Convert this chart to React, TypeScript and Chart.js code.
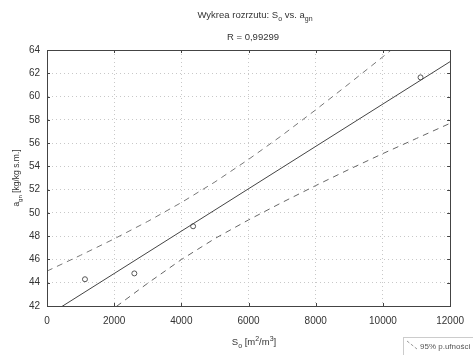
import React, { useEffect, useRef } from "react";
import { Chart, registerables } from "chart.js";

Chart.register(...registerables);

// Measured points
const pointX = [1130, 2600, 4350, 11120];
const pointY = [44.3, 44.8, 48.85, 61.65];

// Regression line
const fitX = [0, 12000];
const fitY = [41.15, 63.0];

// 95% confidence band
const bandX = [0, 1000, 2000, 3000, 4000, 5000, 6000, 7000, 8000, 9000, 10000, 11000, 12000];
const upperY = [45.0, 46.36, 47.77, 49.27, 50.89, 52.66, 54.6, 56.67, 58.86, 61.12, 63.42, 65.77, 68.13];
const lowerY = [37.3, 39.59, 41.82, 43.96, 45.99, 47.8, 49.4, 50.9, 52.35, 53.75, 55.1, 56.4, 57.7];

const titleLine1 = [
  { t: "Wykrea rozrzutu: S" },
  { t: "o", sub: true },
  { t: " vs. a" },
  { t: "gn", sub: true },
];
const titleLine2 = [{ t: "R = 0,99299" }];
const xLabel = [{ t: "S" }, { t: "o", sub: true }, { t: " [m" }, { t: "2", sup: true }, { t: "/m" }, { t: "3", sup: true }, { t: "]" }];
const yLabel = [{ t: "a" }, { t: "gn", sub: true }, { t: " [kg/kg s.m.]" }];
const legendText = "95% p.ufności";

const FONT = "'Liberation Sans', Arial, sans-serif";

type Part = { t: string; sub?: boolean; sup?: boolean };

function drawRich(ctx: CanvasRenderingContext2D, parts: Part[], x: number, y: number, size: number) {
  const small = Math.round(size * 0.72);
  const widths = parts.map((p) => {
    ctx.font = `${p.sub || p.sup ? small : size}px ${FONT}`;
    return ctx.measureText(p.t).width;
  });
  const total = widths.reduce((a, b) => a + b, 0);
  let cx = x - total / 2;
  ctx.textBaseline = "alphabetic";
  ctx.textAlign = "left";
  parts.forEach((p, i) => {
    ctx.font = `${p.sub || p.sup ? small : size}px ${FONT}`;
    const dy = p.sub ? size * 0.3 : p.sup ? -size * 0.4 : 0;
    ctx.fillText(p.t, cx, y + dy);
    cx += widths[i];
  });
}

const decorPlugin = {
  id: "decor",
  afterDraw(chart: any) {
    const ctx: CanvasRenderingContext2D = chart.ctx;
    const a = chart.chartArea;
    ctx.save();
    // frame
    ctx.strokeStyle = "#444";
    ctx.lineWidth = 1;
    ctx.strokeRect(Math.round(a.left) + 0.5, Math.round(a.top) + 0.5, Math.round(a.right - a.left), Math.round(a.bottom - a.top));
    // inward ticks
    const xs = chart.scales.x;
    const ys = chart.scales.y;
    ctx.beginPath();
    xs.ticks.forEach((t: any) => {
      const px = Math.round(xs.getPixelForValue(t.value)) + 0.5;
      ctx.moveTo(px, a.bottom);
      ctx.lineTo(px, a.bottom - 3);
      ctx.moveTo(px, a.top);
      ctx.lineTo(px, a.top + 3);
    });
    ys.ticks.forEach((t: any) => {
      const py = Math.round(ys.getPixelForValue(t.value)) + 0.5;
      ctx.moveTo(a.left, py);
      ctx.lineTo(a.left + 3, py);
      ctx.moveTo(a.right, py);
      ctx.lineTo(a.right - 3, py);
    });
    ctx.stroke();

    ctx.fillStyle = "#333";
    drawRich(ctx, titleLine1, 255, 18, 9.5);
    drawRich(ctx, titleLine2, 253, 40, 9.5);
    drawRich(ctx, xLabel, 254, 345, 9.5);
    ctx.save();
    ctx.translate(19, 178);
    ctx.rotate(-Math.PI / 2);
    drawRich(ctx, yLabel, 0, 0, 8.5);
    ctx.restore();

    // legend box
    const lx = 403, ly = 337;
    ctx.fillStyle = "#fff";
    ctx.fillRect(lx, ly, 473 - lx, 355 - ly);
    ctx.strokeStyle = "#ccc";
    ctx.strokeRect(lx + 0.5, ly + 0.5, 473 - lx, 355 - ly);
    ctx.strokeStyle = "#999";
    ctx.setLineDash([3, 2]);
    ctx.beginPath();
    ctx.moveTo(407, 341);
    ctx.lineTo(417, 349);
    ctx.stroke();
    ctx.setLineDash([]);
    ctx.fillStyle = "#555";
    ctx.font = `8px ${FONT}`;
    ctx.textAlign = "left";
    ctx.textBaseline = "middle";
    ctx.fillText(legendText, 420, 347);
    ctx.restore();
  },
};

export default function App() {
  const ref = useRef<HTMLCanvasElement | null>(null);
  useEffect(() => {
    document.body.style.margin = "0";
    const ctx = ref.current!.getContext("2d")!;
    const toXY = (xs: number[], ys: number[]) => xs.map((x, i) => ({ x, y: ys[i] }));
    const chart = new Chart(ctx, {
      type: "scatter",
      data: {
        datasets: [
          {
            data: toXY(bandX, upperY),
            showLine: true,
            borderColor: "#777",
            borderWidth: 1,
            borderDash: [6, 5],
            pointRadius: 0,
          },
          {
            data: toXY(bandX, lowerY),
            showLine: true,
            borderColor: "#666",
            borderWidth: 1,
            borderDash: [6, 5],
            pointRadius: 0,
          },
          {
            data: toXY(fitX, fitY),
            showLine: true,
            borderColor: "#444",
            borderWidth: 1,
            pointRadius: 0,
          },
          {
            data: toXY(pointX, pointY),
            showLine: false,
            borderColor: "#555",
            backgroundColor: "rgba(0,0,0,0)",
            borderWidth: 1,
            pointRadius: 2.5,
          },
        ],
      },
      options: {
        animation: false,
        responsive: false,
        events: [],
        layout: { padding: { left: 0, right: 17, top: 50, bottom: 0 } },
        plugins: { legend: { display: false }, tooltip: { enabled: false }, title: { display: false } },
        scales: {
          x: {
            type: "linear",
            min: 0,
            max: 12000,
            afterFit: (s: any) => { s.height = 49; },
            ticks: { stepSize: 2000, padding: 9, color: "#333", font: { size: 10, family: FONT }, callback: (v: any) => String(v) },
            grid: { color: "#c8c8c8", drawTicks: false },
            border: { color: "#444", dash: [1, 3] },
          },
          y: {
            type: "linear",
            min: 42,
            max: 64,
            afterFit: (s: any) => { s.width = 47; },
            ticks: { stepSize: 2, padding: 7, color: "#333", font: { size: 10, family: FONT }, callback: (v: any) => String(v) },
            grid: { color: "#c8c8c8", drawTicks: false },
            border: { color: "#444", dash: [1, 3] },
          },
        },
      },
      plugins: [decorPlugin],
    });
    return () => chart.destroy();
  }, []);
  return (
    <div style={{ position: "absolute", left: 0, top: 0, width: 473, height: 355, background: "#fff" }}>
      <canvas ref={ref} width={473} height={355} />
    </div>
  );
}
